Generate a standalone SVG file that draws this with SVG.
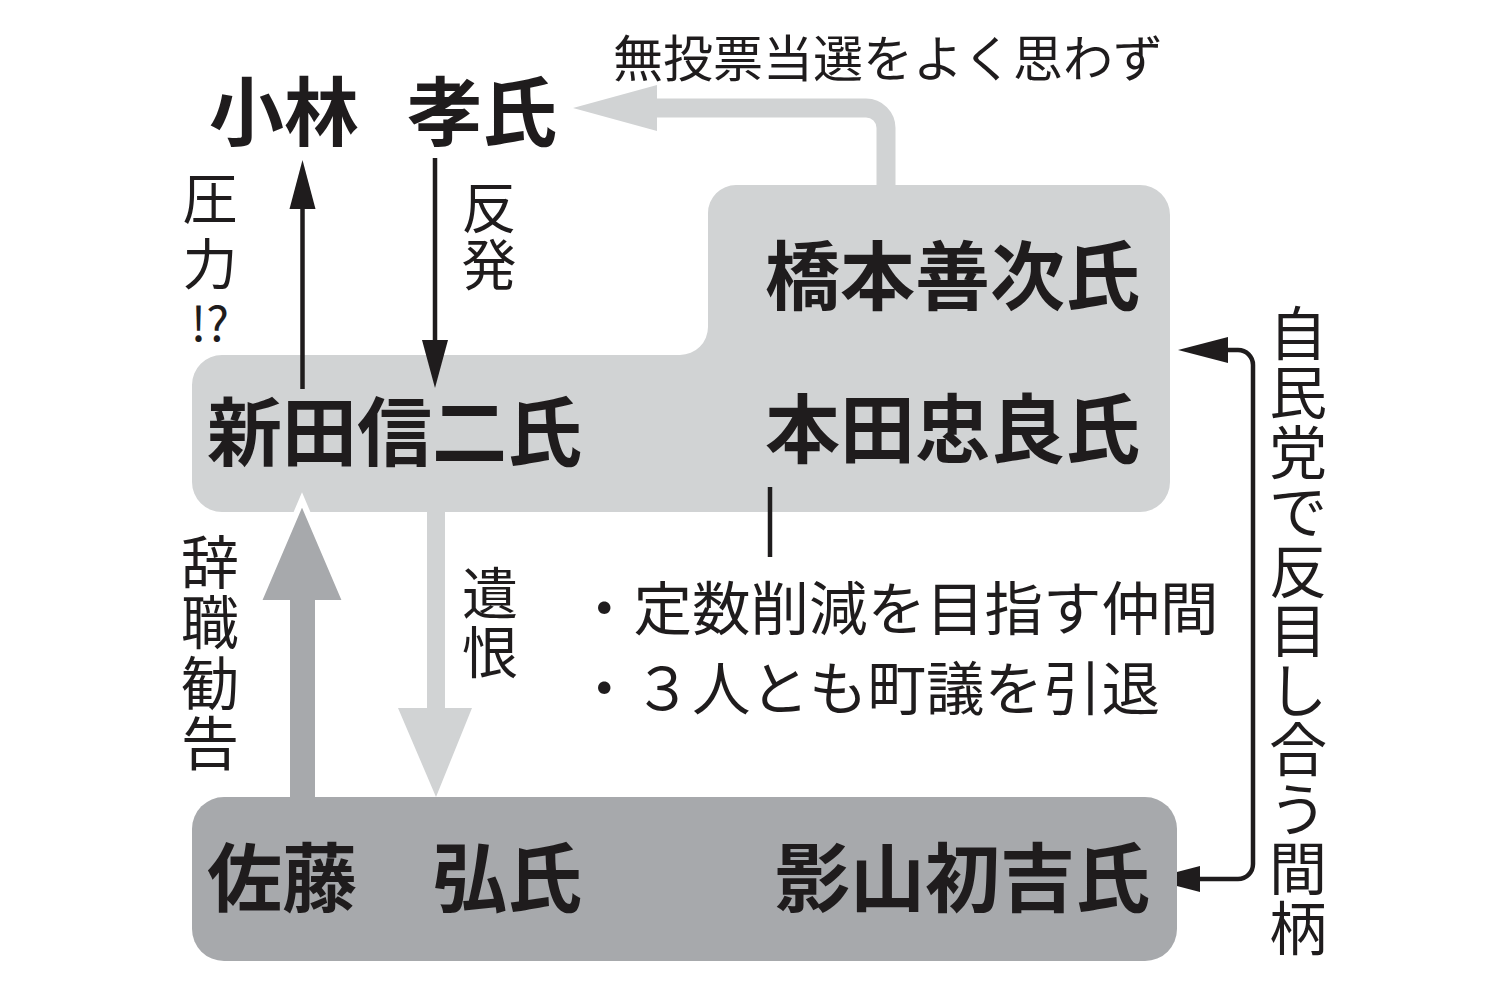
<svg xmlns="http://www.w3.org/2000/svg" width="1500" height="1000" viewBox="0 0 1500 1000">
<style>
.name{font-family:"Noto Sans CJK JP","Noto Sans CJK SC",sans-serif;font-weight:700;font-size:75px;fill:#1f1c1d}
.lbl{font-family:"Noto Sans CJK JP","Noto Sans CJK SC",sans-serif;font-weight:400;fill:#1f1c1d}
.v{text-anchor:middle}
.light{fill:#d1d3d4}
.dark{fill:#a7a9ac}
.ln{fill:none;stroke:#1f1c1d;stroke-width:4.5}
.hd{fill:#1f1c1d}
</style>
<rect width="1500" height="1000" fill="#fff"/>
<g id="node-upper">
<path class="light" d="M222 355 H680 A28 28 0 0 0 708 327 V213 A28 28 0 0 1 736 185 H1140 A30 30 0 0 1 1170 215 V482 A30 30 0 0 1 1140 512 H222 A30 30 0 0 1 192 482 V385 A30 30 0 0 1 222 355 Z"/>
<text class="name" x="207" y="460">新田信二氏</text>
<text class="name" x="765" y="304">橋本善次氏</text>
<text class="name" x="765" y="457">本田忠良氏</text>
</g>
<g id="connectors">
<path d="M886 187 V128 A20 20 0 0 0 866 108 H650" fill="none" stroke="#d1d3d4" stroke-width="19"/>
<polygon class="light" points="657,85 573,108 657,131"/>
<polygon class="dark" stroke="#fff" stroke-width="6" stroke-linejoin="miter" points="287,800 287,603 258,603 302,500 346,603 318,603 318,800"/>
<polygon class="light" points="427,510 445,510 445,708 472,708 436,797 398,708 427,708"/>
<line class="ln" x1="302.5" y1="389" x2="302.5" y2="200"/>
<polygon class="hd" points="302.5,160 315.5,209 289.5,209"/>
<line class="ln" x1="435" y1="158" x2="435" y2="345"/>
<polygon class="hd" points="435,388 422,340 448,340"/>
<path class="ln" d="M1222 350 H1238 A15 15 0 0 1 1253 365 V864 A15 15 0 0 1 1238 879 H1195"/>
<polygon class="hd" points="1178,350 1228,337 1228,363"/>
<polygon class="hd" points="1150,879 1200,866 1200,892"/>
<line class="ln" x1="770" y1="487" x2="770" y2="557"/>
</g>
<g id="node-lower">
<rect class="dark" x="192" y="797" width="985" height="164" rx="32"/>
<text class="name" x="207" y="906">佐藤</text>
<text class="name" x="432" y="906">弘氏</text>
<text class="name" x="775" y="906">影山初吉氏</text>
</g>
<g id="node-kobayashi">
<text class="name" x="209" y="140">小林</text>
<text class="name" x="407" y="140">孝氏</text>
</g>
<g id="labels">
<text class="lbl" x="613" y="77" font-size="50">無投票当選をよく思わず</text>
<text class="lbl v" font-size="55" x="210" y="219">圧</text>
<text class="lbl v" font-size="55" x="210" y="284">力</text>
<text class="lbl v" font-size="48" x="210" y="341">!?</text>
<text class="lbl v" font-size="55" x="489" y="228">反</text>
<text class="lbl v" font-size="55" x="489" y="285">発</text>
<text class="lbl v" font-size="56" x="490" y="614">遺</text>
<text class="lbl v" font-size="56" x="490" y="673">恨</text>
<text class="lbl v" font-size="58" x="210" y="584">辞</text>
<text class="lbl v" font-size="58" x="210" y="644">職</text>
<text class="lbl v" font-size="58" x="210" y="705">勧</text>
<text class="lbl v" font-size="58" x="210" y="765">告</text>
<g font-size="58">
<text class="lbl v" x="1298" y="355">自</text>
<text class="lbl v" x="1298" y="414">民</text>
<text class="lbl v" x="1298" y="474">党</text>
<text class="lbl v" x="1298" y="533">で</text>
<text class="lbl v" x="1298" y="593">反</text>
<text class="lbl v" x="1298" y="652">目</text>
<text class="lbl v" x="1298" y="712">し</text>
<text class="lbl v" x="1298" y="771">合</text>
<text class="lbl v" x="1298" y="831">う</text>
<text class="lbl v" x="1298" y="890">間</text>
<text class="lbl v" x="1298" y="950">柄</text>
</g>
<text class="lbl" x="575" y="630" font-size="58.5">・定数削減を目指す仲間</text>
<text class="lbl" x="575" y="710" font-size="58.5">・３人とも町議を引退</text>
</g>
</svg>
